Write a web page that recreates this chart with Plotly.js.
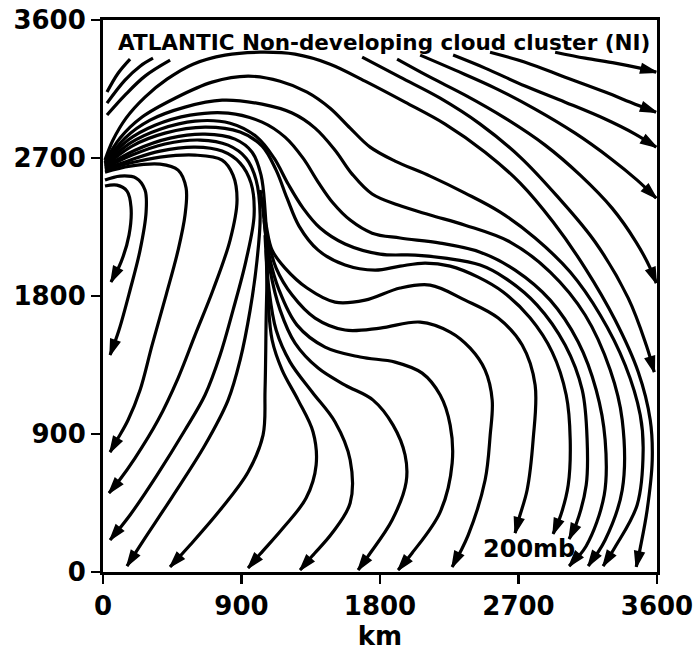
<!DOCTYPE html>
<html><head><meta charset="utf-8">
<script src="https://cdn.plot.ly/plotly-3.0.1.min.js"></script>
<style>html,body{margin:0;padding:0;background:#fff}#chart{width:695px;height:654px}</style>
</head><body><div id="chart"></div>
<script>
// Axis ticks (km)
const tickValues = [0, 900, 1800, 2700, 3600];
const tickLabels = ['0', '900', '1800', '2700', '3600'];

// Streamlines (km, km)
const t1x = [26, 98, 176], t1y = [3130, 3253, 3345];
const t2x = [26, 143, 241, 325], t2y = [3058, 3208, 3299, 3351];
const t3x = [26, 143, 273, 436], t3y = [2980, 3110, 3234, 3338];

const r1x = [2938, 3133, 3328, 3490, 3595], r1y = [3390, 3351, 3319, 3286, 3260];
const r2x = [2515, 2743, 3003, 3263, 3458, 3594], r2y = [3390, 3325, 3227, 3130, 3051, 2999];
const r3x = [2275, 2483, 2743, 3003, 3263, 3458, 3595], r3y = [3371, 3286, 3169, 3064, 2954, 2856, 2771];
const r4x = [2061, 2288, 2548, 2808, 3068, 3296, 3471, 3595], r4y = [3371, 3273, 3156, 3019, 2862, 2699, 2556, 2438];
const r5x = [1911, 2126, 2353, 2613, 2873, 3101, 3308, 3464, 3556, 3595], r5y = [3345, 3227, 3110, 2960, 2784, 2588, 2373, 2152, 1982, 1884];
const r6x = [1684, 1931, 2191, 2451, 2711, 2951, 3198, 3413, 3530, 3582], r6y = [3358, 3227, 3090, 2921, 2706, 2451, 2152, 1786, 1480, 1304];
const r7x = [13, 65, 150, 273, 416, 585, 793, 1021, 1248, 1476, 1703, 1963, 2223, 2483, 2711, 2925, 3133, 3328, 3478, 3556, 3569, 3536, 3491, 3465];
const r7y = [2686, 2817, 2960, 3097, 3214, 3312, 3371, 3390, 3377, 3312, 3201, 3064, 2921, 2738, 2536, 2282, 1982, 1643, 1304, 991, 730, 404, 156, 33];
const r8x = [13, 111, 254, 468, 709, 943, 1151, 1326, 1476, 1606, 1736, 1898, 2126, 2353, 2581, 2808, 3036, 3231, 3393, 3491, 3510, 3471, 3328, 3250];
const r8y = [2673, 2830, 2967, 3090, 3195, 3234, 3201, 3130, 3025, 2895, 2771, 2680, 2582, 2471, 2347, 2178, 1956, 1676, 1350, 1024, 795, 437, 163, 39];
const r9x = [13, 143, 306, 533, 774, 1034, 1229, 1378, 1508, 1619, 1749, 1918, 2126, 2353, 2646, 2906, 3133, 3296, 3374, 3374, 3263, 3153];
const r9y = [2667, 2830, 2947, 3032, 3077, 3051, 2993, 2895, 2751, 2595, 2465, 2393, 2328, 2262, 2152, 1956, 1676, 1317, 991, 535, 209, 39];
const r10x = [13, 163, 338, 566, 813, 1034, 1183, 1300, 1398, 1495, 1606, 1749, 1931, 2191, 2451, 2678, 2906, 3088, 3205, 3263, 3257, 3140, 3029];
const r10y = [2660, 2817, 2914, 2980, 2993, 2934, 2836, 2699, 2543, 2406, 2295, 2210, 2178, 2145, 2086, 1969, 1773, 1500, 1187, 861, 502, 170, 39];
const r11x = [13, 176, 371, 598, 826, 1001, 1112, 1203, 1300, 1411, 1573, 1801, 2028, 2223, 2451, 2613, 2821, 3003, 3114, 3146, 3140, 3075, 3029];
const r11y = [2654, 2797, 2888, 2941, 2927, 2836, 2699, 2530, 2373, 2243, 2139, 2073, 2067, 2047, 2002, 1917, 1741, 1480, 1187, 861, 567, 313, 215];
const r12x = [13, 189, 403, 663, 891, 1034, 1125, 1196, 1274, 1398, 1573, 1768, 1931, 2093, 2256, 2438, 2600, 2776, 2919, 3010, 3036, 3023, 2977, 2925];
const r12y = [2647, 2778, 2862, 2901, 2869, 2778, 2621, 2438, 2256, 2099, 2002, 1969, 1995, 2015, 1995, 1923, 1826, 1656, 1434, 1154, 861, 567, 378, 248];
const r13x = [1021, 1060, 1099, 1183, 1326, 1508, 1703, 1931, 2126, 2353, 2568, 2724, 2808, 2795, 2756, 2704, 2678];
const r13y = [2491, 2262, 2099, 1982, 1852, 1760, 1773, 1852, 1871, 1773, 1656, 1480, 1219, 861, 535, 352, 254];
const r14x = [1034, 1073, 1125, 1229, 1378, 1573, 1801, 2061, 2256, 2386, 2483, 2529, 2516, 2483, 2373, 2269];
const r14y = [2425, 2165, 1982, 1806, 1656, 1578, 1591, 1630, 1565, 1460, 1317, 1121, 893, 600, 241, 33];

const lkx = [1040, 1079, 1144, 1261, 1443, 1671, 1898, 2074, 2191, 2256, 2269, 2191, 2009, 1918];
const lky = [2360, 2067, 1839, 1610, 1467, 1402, 1369, 1297, 1154, 958, 711, 391, 124, 13];
const ljx = [1047, 1086, 1151, 1248, 1398, 1573, 1755, 1885, 1963, 1970, 1879, 1723, 1658];
const ljy = [2295, 1969, 1708, 1493, 1330, 1219, 1121, 958, 763, 587, 339, 104, 13];
const lix = [1053, 1079, 1125, 1216, 1359, 1508, 1606, 1606, 1489, 1359, 1281];
const liy = [2197, 1839, 1578, 1369, 1174, 978, 730, 450, 254, 104, 13];
const lhx = [1060, 1073, 1099, 1164, 1268, 1365, 1385, 1320, 1170, 1021, 943];
const lhy = [2099, 1773, 1513, 1317, 1121, 913, 698, 482, 287, 117, 26];
const lgx = [13, 208, 436, 663, 858, 969, 1027, 1053, 1066, 1060, 1053, 1040, 943, 761, 566, 436];
const lgy = [2641, 2751, 2830, 2856, 2823, 2738, 2588, 2360, 2034, 1643, 1187, 893, 652, 404, 176, 33];
const lfx = [13, 189, 403, 631, 813, 930, 995, 1021, 1001, 956, 891, 813, 663, 449, 260, 156];
const lfy = [2634, 2719, 2791, 2817, 2784, 2699, 2556, 2328, 2034, 1708, 1382, 1121, 828, 489, 202, 39];
const lex = [13, 176, 371, 598, 774, 891, 962, 982, 930, 845, 761, 663, 533, 351, 176, 46];
const ley = [2628, 2686, 2745, 2771, 2745, 2667, 2536, 2328, 2034, 1708, 1415, 1154, 926, 632, 372, 209];
const ldx = [13, 176, 371, 598, 774, 845, 871, 826, 715, 598, 488, 358, 208, 98, 39];
const ldy = [2621, 2667, 2706, 2719, 2686, 2588, 2425, 2165, 1839, 1545, 1265, 991, 743, 587, 515];
const lcx = [13, 176, 371, 488, 540, 533, 488, 410, 319, 241, 163, 91, 46];
const lcy = [2608, 2647, 2660, 2621, 2504, 2328, 2099, 1806, 1480, 1187, 991, 861, 782];
const lbx = [13, 111, 215, 273, 280, 241, 176, 104, 46];
const lby = [2556, 2582, 2569, 2491, 2347, 2099, 1839, 1578, 1415];
const lax = [13, 91, 156, 182, 169, 117, 52];
const lay = [2517, 2523, 2484, 2380, 2197, 2021, 1891];

const streamlines = [
  [t1x, t1y, false], [t2x, t2y, false], [t3x, t3y, false],
  [r1x, r1y, true], [r2x, r2y, true], [r3x, r3y, true], [r4x, r4y, true],
  [r5x, r5y, true], [r6x, r6y, true], [r7x, r7y, true], [r8x, r8y, true],
  [r9x, r9y, true], [r10x, r10y, true], [r11x, r11y, true], [r12x, r12y, true],
  [r13x, r13y, true], [r14x, r14y, true],
  [lkx, lky, true], [ljx, ljy, true], [lix, liy, true], [lhx, lhy, true],
  [lgx, lgy, true], [lfx, lfy, true], [lex, ley, true], [ldx, ldy, true],
  [lcx, lcy, true], [lbx, lby, true], [lax, lay, true]
];

const traces = streamlines.map(s => ({
  type: 'scatter', mode: 'lines', x: s[0], y: s[1],
  line: {color: '#000', width: 3.2, shape: 'spline', smoothing: 1},
  hoverinfo: 'skip', showlegend: false
}));

// arrowheads: filled triangles built from the last segment of each line
const headLen = 100, headHalf = 31;
const ax = [], ay = [];
streamlines.forEach(s => {
  if (!s[2]) return;
  const xs = s[0], ys = s[1], n = xs.length;
  const tx = xs[n - 1], ty = ys[n - 1];
  let dx = tx - xs[n - 2], dy = ty - ys[n - 2];
  const d = Math.hypot(dx, dy); dx /= d; dy /= d;
  const bx = tx - headLen * dx, by = ty - headLen * dy;
  ax.push(tx, bx - headHalf * dy, bx + headHalf * dy, tx, null);
  ay.push(ty, by + headHalf * dx, by - headHalf * dx, ty, null);
});
traces.push({
  type: 'scatter', mode: 'lines', x: ax, y: ay, fill: 'toself',
  fillcolor: '#000', line: {color: '#000', width: 1.5}, hoverinfo: 'skip', showlegend: false
});

const tickFont = {family: 'DejaVu Sans', size: 26, color: '#000', weight: 'bold'};
const layout = {
  width: 695, height: 654,
  margin: {l: 103, r: 38, t: 20, b: 82},
  paper_bgcolor: '#fff', plot_bgcolor: '#fff',
  showlegend: false,
  xaxis: {
    range: [0, 3600], tickvals: tickValues, ticktext: tickLabels,
    ticks: 'outside', ticklen: 9, tickwidth: 2.5, tickcolor: '#000',
    showline: true, linewidth: 3, linecolor: '#000', mirror: true,
    showgrid: false, zeroline: false, tickfont: tickFont,
    title: {text: 'km', font: {family: 'DejaVu Sans', size: 26, color: '#000', weight: 'bold'}, standoff: 3}
  },
  yaxis: {
    range: [0, 3600], tickvals: tickValues, ticktext: tickLabels,
    ticks: 'outside', ticklen: 9, tickwidth: 2.5, tickcolor: '#000',
    showline: true, linewidth: 3, linecolor: '#000', mirror: true,
    showgrid: false, zeroline: false, tickfont: tickFont
  },
  annotations: [
    {text: 'ATLANTIC Non-developing cloud cluster (NI)', xref: 'paper', yref: 'paper',
     x: 0.024, y: 0.96, xanchor: 'left', yanchor: 'middle', showarrow: false,
     font: {family: 'DejaVu Sans', size: 21.5, color: '#000', weight: 'bold'}},
    {text: '200mb', xref: 'paper', yref: 'paper', x: 0.769, y: 0.042,
     xanchor: 'center', yanchor: 'middle', showarrow: false,
     font: {family: 'DejaVu Sans', size: 24, color: '#000', weight: 'bold'}}
  ]
};

Plotly.newPlot('chart', traces, layout, {staticPlot: true, displayModeBar: false});
</script>
</body></html>
